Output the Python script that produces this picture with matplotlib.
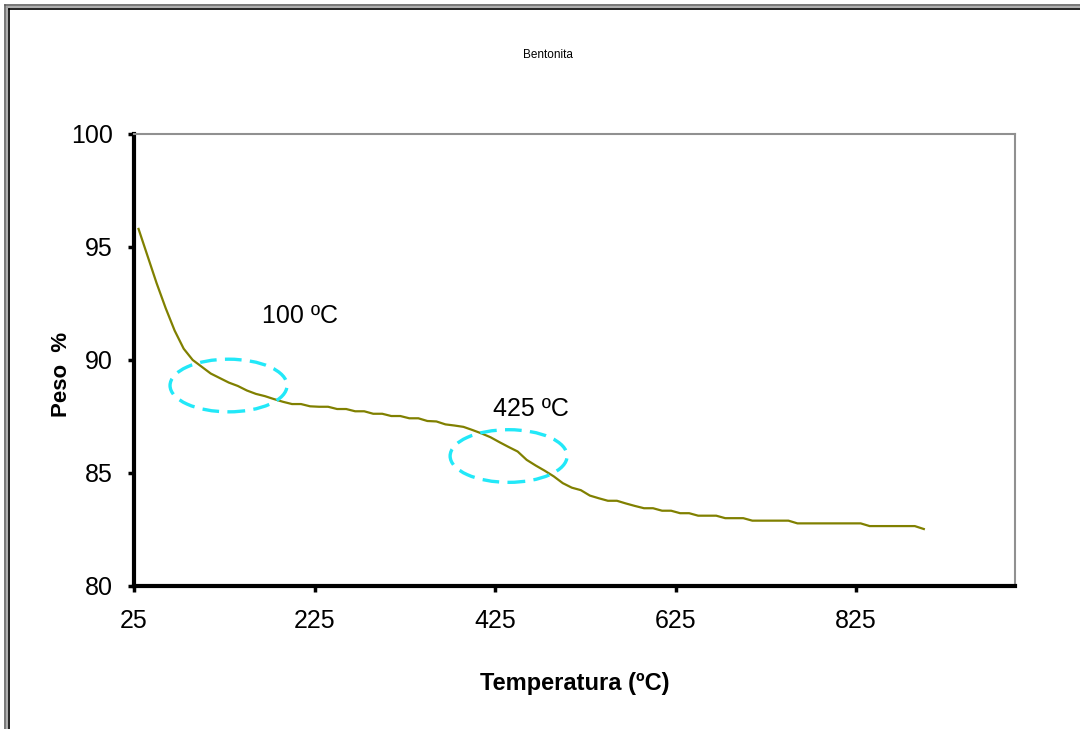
import matplotlib
matplotlib.use("Agg")
import matplotlib.pyplot as plt
from matplotlib.patches import Ellipse
from matplotlib.lines import Line2D

# TGA curve (one point every 10 ºC)
temperatura = [30, 40, 50, 60, 70, 80, 90, 100, 110, 120,
               130, 140, 150, 160, 170, 180, 190, 200, 210, 220,
               230, 240, 250, 260, 270, 280, 290, 300, 310, 320,
               330, 340, 350, 360, 370, 380, 390, 400, 410, 420,
               430, 440, 450, 460, 470, 480, 490, 500, 510, 520,
               530, 540, 550, 560, 570, 580, 590, 600, 610, 620,
               630, 640, 650, 660, 670, 680, 690, 700, 710, 720,
               730, 740, 750, 760, 770, 780, 790, 800, 810, 820,
               830, 840, 850, 860, 870, 880, 890, 900]
peso = [95.8, 94.6, 93.4, 92.3, 91.3, 90.5, 90.0, 89.7, 89.4, 89.2,
        89.0, 88.85, 88.65, 88.5, 88.4, 88.27, 88.15, 88.05, 88.05, 87.95,
        87.93, 87.93, 87.83, 87.83, 87.73, 87.73, 87.62, 87.62, 87.52, 87.52,
        87.42, 87.42, 87.3, 87.28, 87.15, 87.1, 87.04, 86.9, 86.75, 86.58,
        86.36, 86.15, 85.95, 85.58, 85.33, 85.1, 84.85, 84.55, 84.35, 84.24,
        84.0, 83.88, 83.77, 83.77, 83.65, 83.54, 83.44, 83.44, 83.33, 83.33,
        83.22, 83.22, 83.11, 83.11, 83.11, 83.0, 83.0, 83.0, 82.89, 82.89,
        82.89, 82.89, 82.89, 82.77, 82.77, 82.77, 82.77, 82.77, 82.77, 82.77,
        82.77, 82.65, 82.65, 82.65, 82.65, 82.65, 82.65, 82.52]

xticks = [25, 225, 425, 625, 825]
yticks = [80, 85, 90, 95, 100]

# marked events: (label, label pos, ellipse centre)
eventos = ["100 ºC", "425 ºC"]
evento_txt = [(167, 91.95), (423, 87.83)]
evento_elipse = [(129.7, 88.87), (440, 85.75)]

narrow = ["Liberation Sans Narrow", "Liberation Sans", "DejaVu Sans"]
arial = ["Liberation Sans", "DejaVu Sans"]

fig = plt.figure(figsize=(10.8, 7.29), dpi=100)
ax = fig.add_axes([0.1241, 0.1962, 0.9398 - 0.1241, 0.8162 - 0.1962])

ax.plot(temperatura, peso, color="#808000", lw=1.6, zorder=3)

for (tx, ty), (ex, ey), lab in zip(evento_txt, evento_elipse, eventos):
    ax.text(tx, ty, lab, fontsize=18, family=arial, va="center", ha="left")
    ax.add_patch(Ellipse((ex, ey), 129.6, 2.33, fill=False, ec="#22E8F8",
                         lw=2.4, ls=(0, (5, 2.5)), zorder=4))

ax.set_xlim(25, 1001)
ax.set_ylim(80, 100)
ax.set_xticks(xticks)
ax.set_yticks(yticks)
for lab in ax.get_xticklabels() + ax.get_yticklabels():
    lab.set_family(narrow)
    lab.set_fontsize(18)
ax.tick_params(axis="both", direction="out", length=4.5, width=2.5,
               color="black")
ax.tick_params(axis="x", pad=12)
ax.tick_params(axis="y", pad=11)

ax.spines["left"].set_linewidth(3)
ax.spines["bottom"].set_linewidth(3)
ax.spines["top"].set_color("#909090")
ax.spines["right"].set_color("#909090")
ax.spines["top"].set_linewidth(1.5)
ax.spines["right"].set_linewidth(1.5)

ax.set_xlabel("Temperatura (ºC)", fontsize=17, fontweight="bold",
              family=arial, labelpad=28)
ax.set_ylabel("Peso  %", fontsize=16, fontweight="bold", family=arial)
ax.yaxis.set_label_coords(-0.07, 0.467)

fig.text(0.507, 0.9246, "Bentonita", fontsize=8.5, family=narrow,
         ha="center", va="center")

# double frame at left and top edge
W, H = 1080.0, 729.0
for off, c in [(4.5, "#606060"), (6.5, "#a0a0a0"), (8.5, "black")]:
    fig.add_artist(Line2D([off / W, off / W], [0, 1 - off / H], color=c,
                          lw=1.2, transform=fig.transFigure))
    fig.add_artist(Line2D([off / W, 1], [1 - off / H, 1 - off / H], color=c,
                          lw=1.2, transform=fig.transFigure))

fig.savefig("out.png", dpi=100)
